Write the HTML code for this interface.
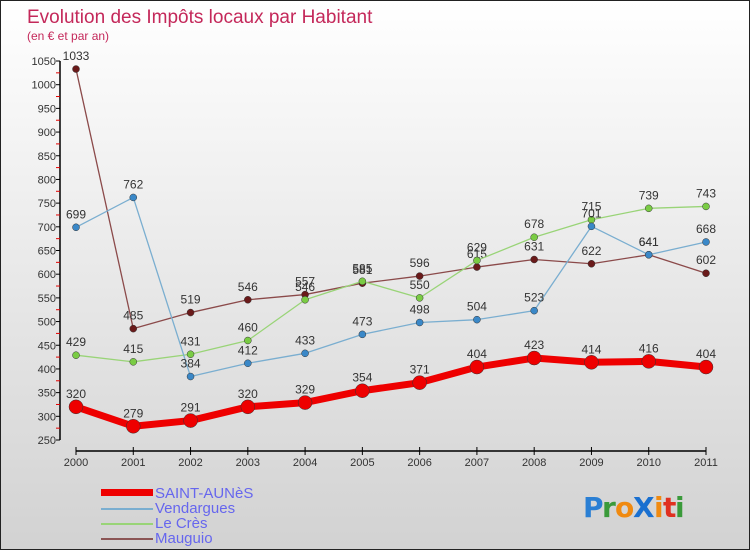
<!DOCTYPE html>
<html><head><meta charset="utf-8"><style>
html,body{margin:0;padding:0}
body{width:750px;height:550px;overflow:hidden;font-family:"Liberation Sans",sans-serif}
#wrap{position:relative;width:748px;height:548px;border:1px solid #222;background:linear-gradient(#ffffff,#d2d2d2)}
</style></head><body>
<div id="wrap">
<svg id="chart" width="748" height="548" xmlns="http://www.w3.org/2000/svg">
<text x="26" y="22" font-size="19" fill="#c4285a">Evolution des Impôts locaux par Habitant</text>
<text x="26" y="39" font-size="12" fill="#c4285a">(en € et par an)</text>
<g id="axes"></g>
<g id="series"></g>
<g id="legend">
<rect x="100" y="488" width="52" height="7" fill="#ee0000"/>
<text x="154" y="497" font-size="15" fill="#6666ee">SAINT-AUNèS</text>
<rect x="100" y="507" width="52" height="2" fill="#7aaed0"/>
<text x="154" y="512" font-size="15" fill="#6666ee">Vendargues</text>
<rect x="100" y="522" width="52" height="2" fill="#99d477"/>
<text x="154" y="527" font-size="15" fill="#6666ee">Le Crès</text>
<rect x="100" y="537" width="52" height="2" fill="#8b5555"/>
<text x="154" y="542" font-size="15" fill="#6666ee">Mauguio</text>
</g>
<g font-size="28" font-weight="bold" font-family="'DejaVu Sans',sans-serif">
<text x="582" y="516" fill="#2a7fd4">P</text><text x="601" y="516" fill="#3a9a3a">r</text><text x="614" y="516" fill="#f08a10">o</text><text x="632" y="516" fill="#1a70d0">X</text><text x="653" y="516" fill="#f08a10">i</text><text x="662" y="516" fill="#e03020">t</text><text x="674" y="516" fill="#3a9a3a">i</text>
</g>
</svg>
</div>
<script>
const years=["2000","2001","2002","2003","2004","2005","2006","2007","2008","2009","2010","2011"];
const saintAunes=[320,279,291,320,329,354,371,404,423,414,416,404];
const vendargues=[699,762,384,412,433,473,498,504,523,701,641,668];
const leCres=[429,415,431,460,546,585,550,629,678,715,739,743];
const mauguio=[1033,485,519,546,557,581,596,615,631,622,641,602];
const yTicks=[250,300,350,400,450,500,550,600,650,700,750,800,850,900,950,1000,1050];
const NS="http://www.w3.org/2000/svg";
function xs(i){return 75+i*(705-75)/(years.length-1);}
function ys(v){return 439-(v-250)*(379/800);}
function mk(tag,attrs,parent,txt){const e=document.createElementNS(NS,tag);for(const k in attrs)e.setAttribute(k,attrs[k]);if(txt!==undefined)e.textContent=txt;parent.appendChild(e);return e;}
const axes=document.getElementById('axes');
let yl=mk('line',{x1:59,y1:ys(1050),x2:59,y2:ys(250),stroke:'#000','stroke-width':1.5},axes);


yTicks.forEach(v=>{
  mk('line',{x1:55,y1:ys(v),x2:59,y2:ys(v),stroke:'#000'},axes);
  if(v<1050)mk('line',{x1:55,y1:ys(v+25),x2:59,y2:ys(v+25),stroke:'#e00000'},axes);
  const t=mk('text',{x:55,y:ys(v)+4,'text-anchor':'end','font-size':11,fill:'#333'},axes,String(v));
  
  
});
let xl=mk('line',{x1:xs(0),y1:450,x2:xs(11),y2:450,stroke:'#000','stroke-width':1.5},axes);


years.forEach((y,i)=>{
  mk('line',{x1:xs(i),y1:446,x2:xs(i),y2:454,stroke:'#000'},axes);
  const t=mk('text',{x:xs(i),y:465,'text-anchor':'middle','font-size':11,fill:'#333'},axes,y);
  
  
});
const ser=document.getElementById('series');
function draw(data,color,dot,w,r,name){
  const g=mk('g',{},ser);
  
  
  mk('polyline',{points:data.map((v,i)=>xs(i)+','+ys(v)).join(' '),fill:'none',stroke:color,'stroke-width':w,'stroke-linejoin':'round'},g);
  data.forEach((v,i)=>{
    const c=mk('circle',{cx:xs(i),cy:ys(v),r:r,fill:dot,stroke:'#333','stroke-width':0.5},g);
    
    
    mk('text',{x:xs(i),y:ys(v)-9,'text-anchor':'middle','font-size':12,fill:'#333'},g,String(v));
  });
}
draw(mauguio,'#8b4a4a','#6a1a1a',1.3,3.5,'mauguio');
draw(leCres,'#99d477','#7acc44',1.3,3.5,'le-cres');
draw(vendargues,'#7aaed0','#3a88c8',1.3,3.5,'vendargues');
draw(saintAunes,'#ee0000','#ee0000',7,7,'saint-aunes');
</script>
</body></html>
